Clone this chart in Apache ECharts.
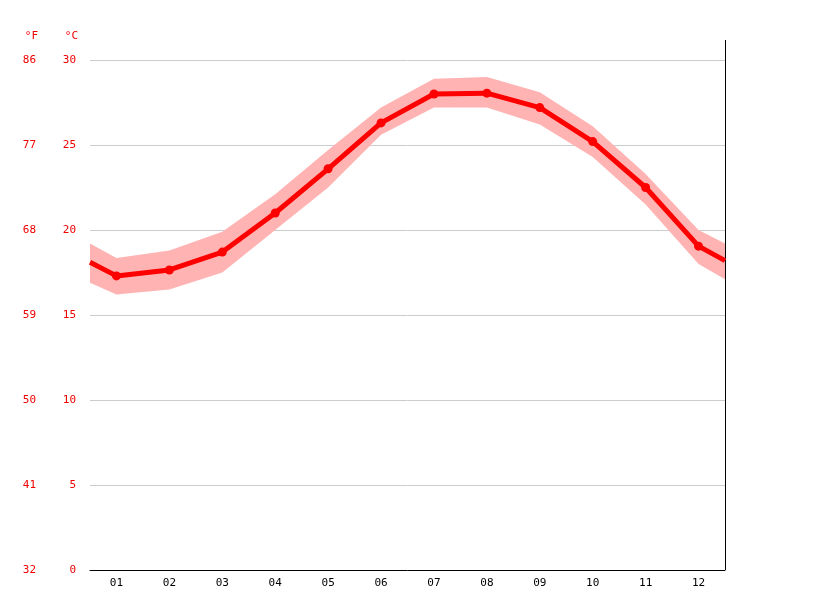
<!DOCTYPE html>
<html>
<head>
<meta charset="utf-8">
<script src="https://cdn.jsdelivr.net/npm/echarts@6/dist/echarts.min.js"></script>
</head>
<body style="margin:0">
<div id="main" style="width:815px;height:611px;"></div>
<script>
var months = ['01','02','03','04','05','06','07','08','09','10','11','12'];
// x positions: 0.5 and 12.5 are the plot edges
var xs    = [0.5, 1, 2, 3, 4, 5, 6, 7, 8, 9, 10, 11, 12, 12.5];
var avg   = [18.1, 17.3, 17.65, 18.7, 21.0, 23.6, 26.3, 28.0, 28.05, 27.2, 25.2, 22.5, 19.05, 18.2];
var upper = [19.2, 18.35, 18.8, 19.9, 22.1, 24.7, 27.2, 28.9, 29.0, 28.1, 26.1, 23.3, 20.0, 19.2];
var lower = [16.9, 16.2, 16.5, 17.5, 20.0, 22.5, 25.6, 27.2, 27.2, 26.2, 24.3, 21.5, 18.0, 17.1];

function pts(arr) { return xs.map(function (x, i) { return [x, arr[i]]; }); }
var bandData = xs.map(function (x, i) { return [x, lower[i], upper[i]]; });
var font = 'DejaVu Sans Mono';

var chart = echarts.init(document.getElementById('main'));
chart.setOption({
    animation: false,
    textStyle: { fontFamily: font },
    grid: { left: 90, right: 90, top: 60, bottom: 41 },
    xAxis: [{
        type: 'category', data: months, boundaryGap: true,
        axisLine: { lineStyle: { color: '#000' } },
        axisTick: { lineStyle: { color: '#000' }, length: 4 },
        axisLabel: { color: '#000', fontSize: 11, margin: 8, fontFamily: font }
    }, {
        type: 'value', min: 0.5, max: 12.5, show: false
    }],
    yAxis: [{
        type: 'value', min: 0, max: 30, interval: 5, position: 'left',
        name: '°C', nameLocation: 'end', nameGap: 18,
        nameTextStyle: { color: '#e00', fontSize: 11, align: 'right', padding: [0, 12, 0, 0], fontFamily: font },
        axisLine: { show: false }, axisTick: { show: false },
        axisLabel: { color: '#e00', fontSize: 11, margin: 14, fontFamily: font },
        splitLine: { lineStyle: { color: '#ccc' } }
    }, {
        type: 'value', min: 32, max: 86, interval: 9, position: 'left', offset: 40,
        name: '°F', nameLocation: 'end', nameGap: 18,
        nameTextStyle: { color: '#e00', fontSize: 11, align: 'right', padding: [0, 12, 0, 0], fontFamily: font },
        axisLine: { show: false }, axisTick: { show: false },
        axisLabel: { color: '#e00', fontSize: 11, margin: 14, fontFamily: font },
        splitLine: { show: false }
    }],
    graphic: [{
        type: 'line', shape: { x1: 725.5, y1: 40, x2: 725.5, y2: 570 },
        style: { stroke: '#000', lineWidth: 1 }
    }],
    series: [{
        type: 'custom', xAxisIndex: 1, data: bandData, silent: true,
        renderItem: function (params, api) {
            if (params.dataIndex !== 0) return null;
            var top = [], bot = [];
            bandData.forEach(function (d) {
                top.push(api.coord([d[0], d[2]]));
                bot.unshift(api.coord([d[0], d[1]]));
            });
            return {
                type: 'polygon',
                shape: { points: top.concat(bot) },
                style: { fill: '#ffb3b3' }
            };
        }
    }, {
        type: 'line', xAxisIndex: 1, data: pts(avg),
        lineStyle: { color: '#ff0000', width: 5 },
        itemStyle: { color: '#ff0000' },
        symbol: function (v) { return (v[0] === 0.5 || v[0] === 12.5) ? 'none' : 'circle'; },
        symbolSize: 9
    }]
});
</script>
</body>
</html>
